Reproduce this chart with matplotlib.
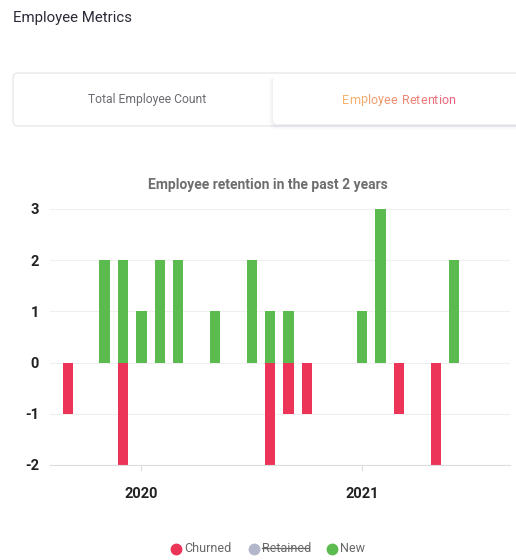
import numpy as np
import matplotlib
matplotlib.use('Agg')
import matplotlib.pyplot as plt
from matplotlib.patches import FancyBboxPatch
from matplotlib.lines import Line2D
from matplotlib.colors import LinearSegmentedColormap

# Data (monthly counts)
months = ['2019-09', '2019-10', '2019-11', '2019-12', '2020-01', '2020-02',
          '2020-03', '2020-04', '2020-05', '2020-06', '2020-07', '2020-08',
          '2020-09', '2020-10', '2020-11', '2020-12', '2021-01', '2021-02',
          '2021-03', '2021-04', '2021-05', '2021-06']
churned = [-1, 0, 0, -2, 0, 0, 0, 0, 0, 0, 0, -2, -1, -1, 0, 0, 0, 0, -1, 0, -2, 0]
new_hires = [0, 0, 2, 2, 1, 2, 2, 0, 1, 0, 2, 1, 1, 0, 0, 0, 1, 3, 0, 0, 0, 2]
year_ticks = ['2020', '2021']
y_ticks = [-2, -1, 0, 1, 2, 3]
legend_labels = ['Churned', 'Retained', 'New']

plt.rcParams['font.family'] = ['Roboto', 'DejaVu Sans']

W, H = 516, 560
fig = plt.figure(figsize=(W / 100, H / 100), dpi=100)
fig.patch.set_facecolor('white')
renderer = fig.canvas.get_renderer()

# overlay in pixel coordinates for the page furniture (y measured from top)
ui = fig.add_axes([0, 0, 1, 1], zorder=0)
ui.set_xlim(0, W)
ui.set_ylim(H, 0)
ui.axis('off')

ui.text(13, 18, 'Employee Metrics', fontsize=10.8, color='#2b2b38',
        ha='left', va='center')

# tab container
ui.add_patch(FancyBboxPatch((13, 73), 540, 53, boxstyle='round,pad=0,rounding_size=5',
                            facecolor='#ffffff', edgecolor='#e4e4e8', linewidth=0.8))
# soft shadow of the active tab
for i in range(5):
    g = 5 - i
    ui.add_patch(FancyBboxPatch((273 - g * 0.8, 76 + 1), 300, 48 + g * 0.9,
                                boxstyle='round,pad=0,rounding_size=6',
                                facecolor='#8a8aa0', edgecolor='none', alpha=0.025))
ui.add_patch(FancyBboxPatch((273, 76), 300, 48, boxstyle='round,pad=0,rounding_size=5',
                            facecolor='white', edgecolor='none'))
ui.text(147, 100, 'Total Employee Count', fontsize=8.7, color='#6b6b73',
        ha='center', va='center')

# active tab label with an orange-to-pink gradient, one character at a time
label = 'Employee Retention'
fs = 9.0
cmap = LinearSegmentedColormap.from_list('g', ['#f2b46a', '#e8607c'])


def text_w(s):
    t = ui.text(0, 0, s, fontsize=fs)
    w = t.get_window_extent(renderer).width
    t.remove()
    return w


total = text_w(label)
x0 = 398 - total / 2
gap = 0
for i, ch in enumerate(label):
    if ch == ' ':
        gap = 1.5
        continue
    off = text_w(label[:i] + 'l') - text_w('l') if i > 0 else 0
    ui.text(x0 + off + gap, 100, ch, fontsize=fs, color=cmap(i / (len(label) - 1)),
            ha='left', va='center')

# chart title
ui.text(268, 185, 'Employee retention in the past 2 years', fontsize=10,
        fontweight='bold', color='#6e6e6e', ha='center', va='center')

# legend
leg_colors = ['#eb3458', '#b3b7cc', '#5cbb4e']
leg_x = [176, 254, 332]
for lx, lab, c in zip(leg_x, legend_labels, leg_colors):
    ui.add_line(Line2D([lx], [549], marker='o', markersize=7.5, color=c, linestyle='none'))
    ui.text(lx + 8, 549, lab, fontsize=9, color='#666666', ha='left', va='center')
ui.add_line(Line2D([262, 308], [548, 548], color='#666666', linewidth=0.9))

# main chart
ax = fig.add_axes([50 / W, 1 - 465 / H, 460 / W, 256 / H], zorder=1)
ax.patch.set_alpha(0)
idx = [(int(m[:4]) - 2020) * 12 + int(m[5:]) - 1 for m in months]
ax.bar(idx, new_hires, width=0.56, color='#5cbb4e', zorder=2)
ax.bar(idx, churned, width=0.56, color='#eb3458', zorder=2)

ax.set_xlim(-4.97, 20.03)
ax.set_ylim(-2, 3)
ax.set_yticks(y_ticks)
ax.set_yticklabels([str(v) for v in y_ticks])
ax.set_xticks([(int(y) - 2020) * 12 for y in year_ticks])
ax.set_xticklabels(year_ticks)
ax.grid(axis='y', color='#efefef', linewidth=0.8, zorder=0)
for s in ['top', 'right', 'left']:
    ax.spines[s].set_visible(False)
ax.spines['bottom'].set_color('#dddddd')
ax.spines['bottom'].set_linewidth(0.8)
ax.tick_params(axis='y', length=0, pad=8, labelsize=10.5, labelcolor='#222222')
ax.tick_params(axis='x', length=4, color='#dddddd', pad=12, labelsize=10.5,
               labelcolor='#222222')
for lbl in ax.get_xticklabels() + ax.get_yticklabels():
    lbl.set_fontweight('bold')

fig.savefig('out.png', dpi=100)
